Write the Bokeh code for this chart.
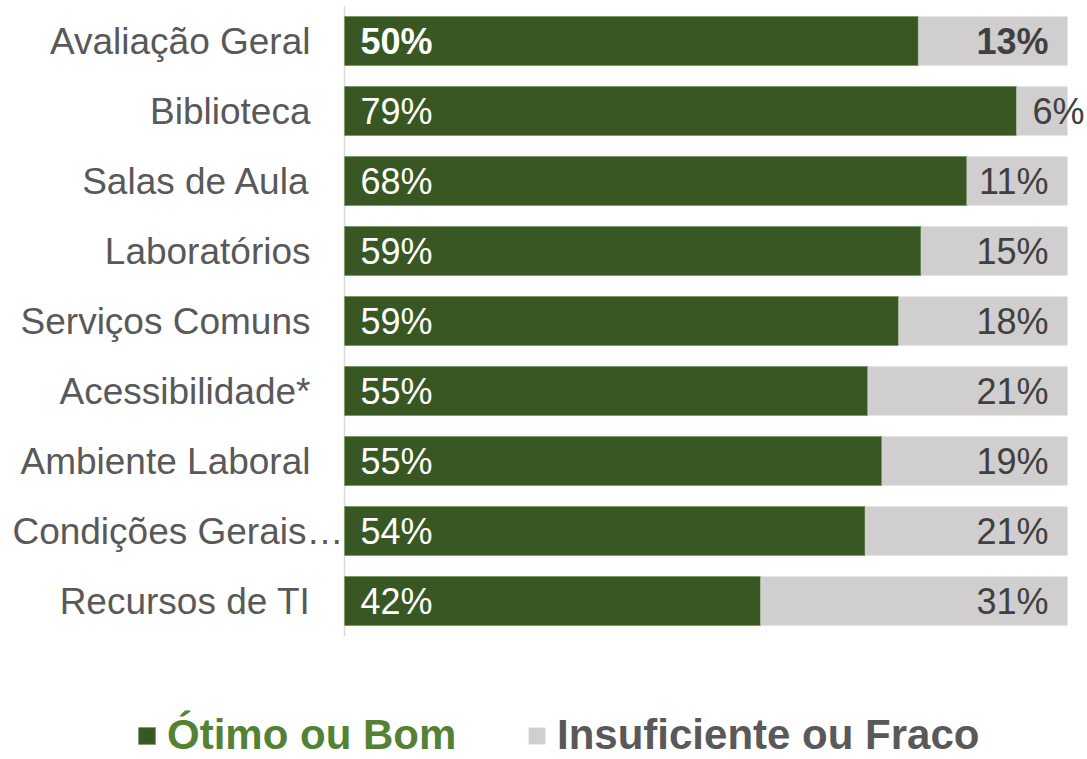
import numpy as np
from bokeh.plotting import figure
from bokeh.models import ColumnDataSource, LabelSet, Range1d, Legend, LegendItem
from bokeh.core.properties import value
from bokeh.embed import file_html
from bokeh.resources import INLINE

# ---------------- data ----------------
categories = ["Avaliação Geral", "Biblioteca", "Salas de Aula", "Laboratórios",
              "Serviços Comuns", "Acessibilidade*", "Ambiente Laboral",
              "Condições Gerais…", "Recursos de TI"]
good = [50, 79, 68, 59, 59, 55, 55, 54, 42]      # Ótimo ou Bom (%)
poor = [13, 6, 11, 15, 18, 21, 19, 21, 31]       # Insuficiente ou Fraco (%)
highlight = "Avaliação Geral"
series_names = ["Ótimo ou Bom", "Insuficiente ou Fraco"]

# ---------------- styles ----------------
FONT = "Liberation Sans"
GREEN = "#385723"
GREEN_TXT = "#548235"
GRAY = "#D0CECE"
TXT = "#595959"
TXT_DARK = "#404040"

W, H = 1087, 759
AX_LEFT = 344          # px from figure left to the value axis
BAR_W = 723            # px spanned by 100%
ROW = 70               # px per category row
TOP_ROW_CENTER = 40.5  # px from figure top

n = len(categories)
g_arr = np.array(good, dtype=float)
p_arr = np.array(poor, dtype=float)
share = g_arr / (g_arr + p_arr)          # 100% stacked
ypos = np.arange(n)[::-1].astype(float)  # first category on top

y_top = (n - 1) + TOP_ROW_CENTER / ROW
src = ColumnDataSource(dict(y=ypos, g=share, one=np.ones(n)))

p = figure(width=W, height=H,
           x_range=Range1d(-AX_LEFT / BAR_W, (W - AX_LEFT) / BAR_W),
           y_range=Range1d(y_top - H / ROW, y_top),
           x_axis_location=None, y_axis_location=None,
           toolbar_location=None, output_backend="svg",
           min_border_left=0, min_border_right=0,
           min_border_top=0, min_border_bottom=0)
p.outline_line_color = None
p.grid.grid_line_color = None
p.background_fill_color = "white"

# vertical category axis line
p.segment(x0=[0], x1=[0], y0=[-0.5], y1=[n - 0.5], line_color="#D9D9D9",
          line_width=1.5, level="underlay")

rg = p.hbar(y="y", left=0, right="g", height=0.7, source=src,
            fill_color=GREEN, line_color="#7E9B6A", line_width=1)
rp = p.hbar(y="y", left="g", right="one", height=0.7, source=src,
            fill_color=GRAY, line_color=None)


def add_labels(idx, x, texts, offset, align, color, size, bold=False):
    if len(idx) == 0:
        return
    s = ColumnDataSource(dict(x=[x[i] for i in idx], y=[ypos[i] for i in idx],
                              t=[texts[i] for i in idx]))
    p.add_layout(LabelSet(x="x", y="y", text="t", source=s, x_offset=offset,
                          text_align=align, text_baseline="middle",
                          text_font=value(FONT), text_font_size=size,
                          text_font_style="bold" if bold else "normal",
                          text_color=color))


good_txt = [f"{v}%" for v in good]
poor_txt = [f"{v}%" for v in poor]
zeros = [0.0] * n
ones = [1.0] * n
bold_idx = [i for i in range(n) if categories[i] == highlight]
norm_idx = [i for i in range(n) if categories[i] != highlight]

# value labels in green segment
add_labels(bold_idx, zeros, good_txt, 16, "left", "white", "36px", True)
add_labels(norm_idx, zeros, good_txt, 16, "left", "white", "36px")

# value labels in gray segment
narrow = [i for i in range(n) if (1 - share[i]) < 0.1]
wide_b = [i for i in bold_idx if i not in narrow]
wide_n = [i for i in norm_idx if i not in narrow]
add_labels(wide_b, ones, poor_txt, -19, "right", TXT_DARK, "36px", True)
add_labels(wide_n, ones, poor_txt, -19, "right", TXT_DARK, "36px")
add_labels(narrow, list(share), poor_txt, 16, "left", TXT_DARK, "36px")

# category labels
trunc = [i for i in range(n) if categories[i].endswith("…")]
regular = [i for i in range(n) if i not in trunc]
add_labels(regular, zeros, categories, -34, "right", TXT, "37px")
add_labels(trunc, zeros, categories, -1, "right", TXT, "37px")

# legends
common = dict(orientation="horizontal", label_text_font=FONT,
              label_text_font_size="42px", label_text_font_style="bold",
              label_text_line_height=1.0,
              glyph_width=21, glyph_height=21, label_standoff=10,
              padding=0, margin=0, spacing=0,
              border_line_color=None, background_fill_alpha=0)
leg1 = Legend(items=[LegendItem(label=series_names[0], renderers=[rg])],
              location=(136, 0), label_text_color=GREEN_TXT, **common)
leg2 = Legend(items=[LegendItem(label=series_names[1], renderers=[rp])],
              location=(526, 0), label_text_color=TXT, **common)
p.add_layout(leg1)
p.add_layout(leg2)

open("out.html", "w").write(file_html(p, INLINE))
